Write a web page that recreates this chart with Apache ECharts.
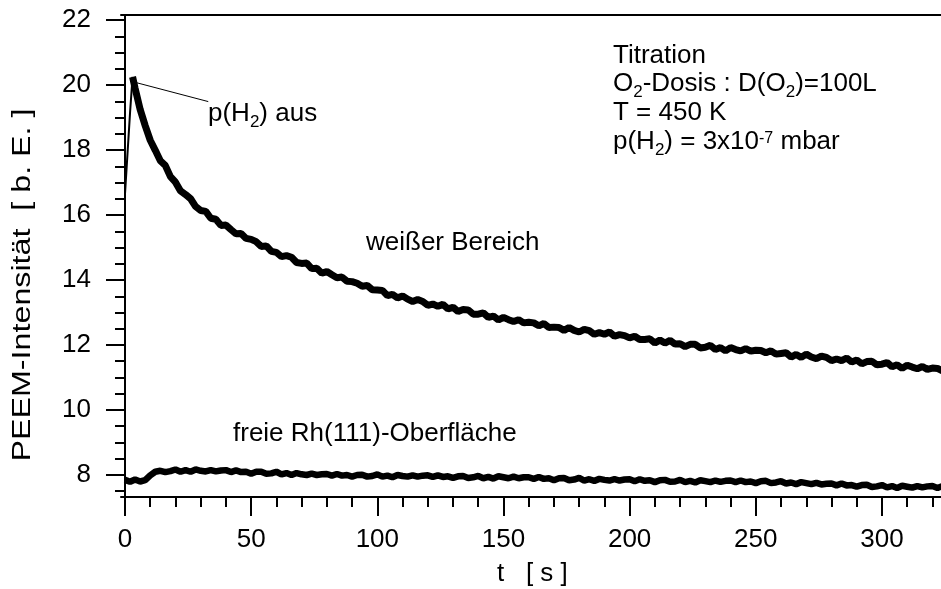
<!DOCTYPE html>
<html><head><meta charset="utf-8">
<script src="https://cdn.jsdelivr.net/npm/echarts@6/dist/echarts.min.js"></script>
<style>html,body{margin:0;padding:0;background:#fff}#c{width:941px;height:589px}</style>
</head><body><div id="c"></div>
<script>
// ---- data ----
const riseT = [0, 1, 2, 3];
const riseV = [16.65, 17.9, 19.15, 20.25];

const upperT = [3,4,6,8,10,12,14,16,18,20,22,24,26,28,30,32,34,36,38,40,42,44,46,48,50,52,54,56,58,60,62,64,66,68,70,72,74,76,78,80,82,84,86,88,90,92,94,96,98,100,102,104,106,108,110,112,114,116,118,120,122,124,126,128,130,132,134,136,138,140,142,144,146,148,150,152,154,156,158,160,162,164,166,168,170,172,174,176,178,180,182,184,186,188,190,192,194,196,198,200,202,204,206,208,210,212,214,216,218,220,222,224,226,228,230,232,234,236,238,240,242,244,246,248,250,252,254,256,258,260,262,264,266,268,270,272,274,276,278,280,282,284,286,288,290,292,294,296,298,300,302,304,306,308,310,312,314,316,318,320,322,324];
const upperV = [20.25,19.9,19.25,18.75,18.3,17.99,17.67,17.52,17.18,17.01,16.74,16.63,16.5,16.26,16.14,16.11,15.9,15.87,15.68,15.69,15.55,15.42,15.43,15.28,15.25,15.18,15.03,15.05,14.88,14.85,14.72,14.75,14.7,14.54,14.51,14.52,14.35,14.36,14.21,14.26,14.16,14.07,14.09,13.96,13.95,13.9,13.81,13.83,13.7,13.69,13.68,13.52,13.56,13.45,13.51,13.41,13.34,13.4,13.34,13.22,13.26,13.19,13.25,13.11,13.16,13.03,13.09,13.08,12.95,12.95,12.99,12.85,12.89,12.77,12.85,12.78,12.72,12.78,12.68,12.7,12.68,12.59,12.66,12.54,12.55,12.54,12.45,12.54,12.45,12.4,12.48,12.44,12.33,12.38,12.33,12.4,12.27,12.32,12.29,12.22,12.27,12.17,12.17,12.19,12.06,12.15,12.06,12.14,12.03,12.04,11.95,12.02,12.02,11.91,11.93,11.99,11.86,11.92,11.82,11.92,11.86,11.82,11.89,11.81,11.84,11.83,11.76,11.82,11.72,11.74,11.76,11.63,11.71,11.62,11.72,11.63,11.58,11.66,11.62,11.52,11.57,11.52,11.6,11.48,11.54,11.42,11.49,11.5,11.39,11.41,11.46,11.33,11.39,11.28,11.38,11.32,11.27,11.34,11.25,11.29,11.28,11.2];

const lowerT = [0,2,4,6,8,10,12,14,16,18,20,22,24,26,28,30,32,34,36,38,40,42,44,46,48,50,52,54,56,58,60,62,64,66,68,70,72,74,76,78,80,82,84,86,88,90,92,94,96,98,100,102,104,106,108,110,112,114,116,118,120,122,124,126,128,130,132,134,136,138,140,142,144,146,148,150,152,154,156,158,160,162,164,166,168,170,172,174,176,178,180,182,184,186,188,190,192,194,196,198,200,202,204,206,208,210,212,214,216,218,220,222,224,226,228,230,232,234,236,238,240,242,244,246,248,250,252,254,256,258,260,262,264,266,268,270,272,274,276,278,280,282,284,286,288,290,292,294,296,298,300,302,304,306,308,310,312,314,316,318,320,322,324];
const lowerV = [7.85,7.79,7.86,7.8,7.84,7.99,8.1,8.13,8.09,8.12,8.17,8.1,8.15,8.1,8.17,8.13,8.11,8.15,8.11,8.14,8.15,8.09,8.14,8.09,8.1,8.04,8.1,8.1,8.04,8.05,8.1,8.02,8.06,8.0,8.06,8.02,8.0,8.04,8.0,8.02,8.03,7.98,8.03,7.98,8.0,7.95,8.0,8.01,7.95,7.97,8.02,7.95,7.98,7.93,8.0,7.97,7.95,7.99,7.95,7.98,7.99,7.94,7.99,7.94,7.96,7.91,7.96,7.97,7.91,7.93,7.97,7.9,7.94,7.89,7.96,7.93,7.9,7.95,7.9,7.93,7.93,7.88,7.94,7.88,7.9,7.84,7.9,7.91,7.84,7.86,7.91,7.83,7.87,7.82,7.88,7.85,7.83,7.87,7.83,7.86,7.87,7.81,7.87,7.82,7.84,7.78,7.84,7.85,7.79,7.8,7.85,7.78,7.82,7.77,7.84,7.81,7.78,7.83,7.79,7.82,7.83,7.78,7.83,7.78,7.8,7.75,7.81,7.82,7.75,7.77,7.81,7.74,7.77,7.72,7.78,7.75,7.72,7.76,7.71,7.73,7.74,7.68,7.74,7.68,7.69,7.64,7.69,7.7,7.63,7.65,7.69,7.62,7.66,7.6,7.67,7.64,7.61,7.66,7.62,7.65,7.66,7.6,7.66];

const xMajorTicks = [0, 50, 100, 150, 200, 250, 300];
const xMinorTicks = [10,20,30,40,60,70,80,90,110,120,130,140,160,170,180,190,210,220,230,240,260,270,280,290,310,320];
const yMajorTicks = [8, 10, 12, 14, 16, 18, 20, 22];
const yMinorTicks = [7.5,8.5,9,9.5,10.5,11,11.5,12.5,13,13.5,14.5,15,15.5,16.5,17,17.5,18.5,19,19.5,20.5,21,21.5];
const xRange = [-1.585, 323.4];
const yRange = [7.323, 22.154];
const leaderLine = [[4.6, 20.07], [33, 19.49]];

// ---- chart ----
const FF = '"Liberation Sans", Arial, sans-serif';
const FS = 26;
const zip = (a, b) => a.map((v, i) => [v, b[i]]);
const chart = echarts.init(document.getElementById('c'), null, {renderer: 'canvas'});

const baseX = {type: 'value', min: xRange[0], max: xRange[1], splitLine: {show: false}};
const baseY = {type: 'value', min: yRange[0], max: yRange[1], splitLine: {show: false}};
const axLine = {show: true, lineStyle: {color: '#000', width: 2}};

function rich() {
  return {
    n: {fontSize: FS, fontFamily: FF, fill: '#000'},
    s: {fontSize: 17, fontFamily: FF, fill: '#000', padding: [17, 0, 0, 0]},
    u: {fontSize: 16, fontFamily: FF, fill: '#000', padding: [0, 0, 6, 0]}
  };
}
function txt(x, y, text) {
  return {type: 'text', x: x, y: y, z: 100,
    style: {text: text, rich: rich(), fontSize: FS, fontFamily: FF, fill: '#000',
      align: 'left', verticalAlign: 'middle', textAlign: 'left', textVerticalAlign: 'middle'}};
}

chart.setOption({
  animation: false,
  grid: {left: 121, right: 0, top: 15, bottom: 92, outerBoundsMode: 'none', containLabel: false},
  xAxis: [
    Object.assign({}, baseX, {position: 'bottom', axisLine: axLine,
      axisTick: {show: true, customValues: xMajorTicks, length: 19, lineStyle: {color: '#000', width: 2}},
      axisLabel: {show: true, customValues: xMajorTicks, margin: 30, fontSize: FS, fontFamily: FF, color: '#000'}}),
    Object.assign({}, baseX, {position: 'bottom', axisLine: {show: false},
      axisTick: {show: true, customValues: xMinorTicks, length: 10, lineStyle: {color: '#000', width: 2}},
      axisLabel: {show: false}}),
    Object.assign({}, baseX, {position: 'top', axisLine: axLine, axisTick: {show: false}, axisLabel: {show: false}})
  ],
  yAxis: [
    Object.assign({}, baseY, {position: 'left', axisLine: axLine,
      axisTick: {show: true, customValues: yMajorTicks, length: 19, lineStyle: {color: '#000', width: 2}},
      axisLabel: {show: true, customValues: yMajorTicks, margin: 30, fontSize: FS, fontFamily: FF, color: '#000'}}),
    Object.assign({}, baseY, {position: 'left', axisLine: {show: false},
      axisTick: {show: true, customValues: yMinorTicks, length: 10, lineStyle: {color: '#000', width: 2}},
      axisLabel: {show: false}})
  ],
  series: [
    {type: 'line', data: zip(riseT, riseV), showSymbol: false, symbol: 'none', lineStyle: {color: '#000', width: 2}, clip: true},
    {type: 'line', data: zip(upperT, upperV), showSymbol: false, symbol: 'none', lineStyle: {color: '#000', width: 7, join: 'bevel'}, clip: true},
    {type: 'line', data: zip(lowerT, lowerV), showSymbol: false, symbol: 'none', lineStyle: {color: '#000', width: 6.5, join: 'bevel'}, clip: true},
    {type: 'line', data: leaderLine, showSymbol: false, symbol: 'none', lineStyle: {color: '#000', width: 1}, clip: true}
  ],
  graphic: [
    txt(613, 56, '{n|Titration}'),
    txt(613, 84, '{n|O}{s|2}{n|-Dosis : D(O}{s|2}{n|)=100L}'),
    txt(613, 113, '{n|T = 450 K}'),
    txt(613, 142, '{n|p(H}{s|2}{n|) = 3x10}{u|-7}{n| mbar}'),
    txt(208, 114, '{n|p(H}{s|2}{n|) aus}'),
    txt(366, 243, '{n|weißer Bereich}'),
    txt(233, 434, '{n|freie Rh(111)-Oberfläche}'),
    txt(497, 574, '{n|t   [ s ]}'),
    {type: 'text', x: 23, y: 285, rotation: Math.PI / 2, scaleX: 1.24, scaleY: 1, z: 100,
      style: {text: 'PEEM-Intensität  [ b. E. ]', fontSize: FS, fontFamily: FF, fill: '#000',
        align: 'center', verticalAlign: 'middle', textAlign: 'center', textVerticalAlign: 'middle'}}
  ]
});
</script></body></html>
